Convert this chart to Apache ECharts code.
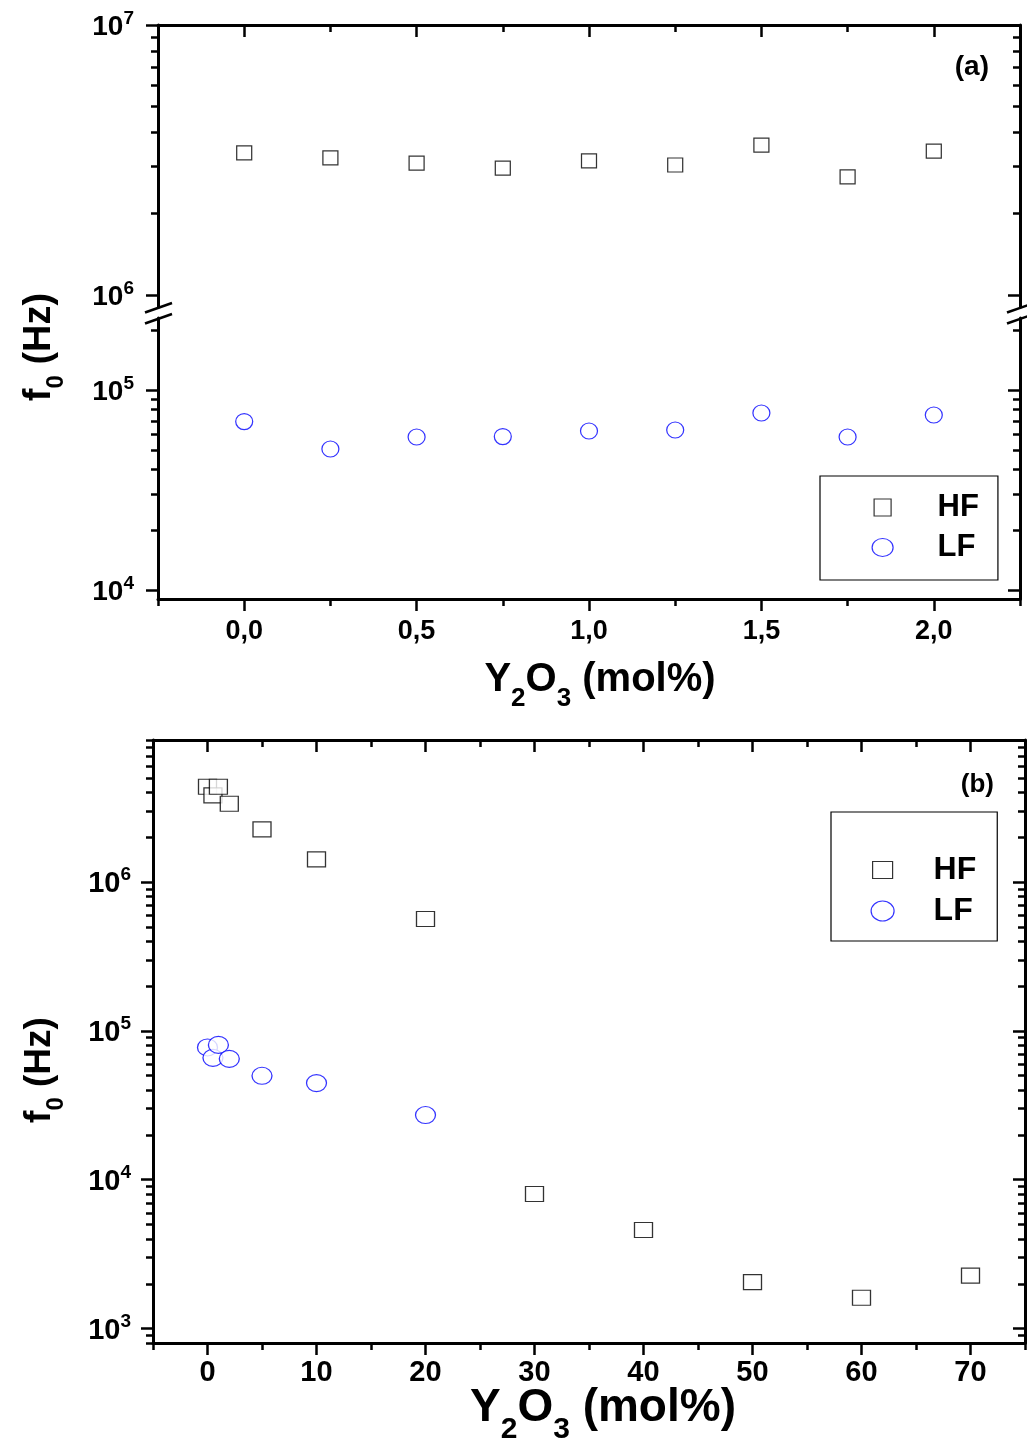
<!DOCTYPE html>
<html>
<head>
<meta charset="utf-8">
<script src="https://cdn.jsdelivr.net/npm/echarts@6/dist/echarts.min.js"></script>
<style>
  html, body { margin: 0; padding: 0; background: #fff; }
  #chart { width: 1027px; height: 1443px; }
</style>
</head>
<body>
<div id="chart"></div>
<script>
// ---- Panel (a): Y2O3 content 0 - 2 mol% ----
const xA  = [0, 0.25, 0.5, 0.75, 1.0, 1.25, 1.5, 1.75, 2.0];
const hfA = [3.36e6, 3.22e6, 3.08e6, 2.95e6, 3.14e6, 3.03e6, 3.59e6, 2.74e6, 3.41e6];
const lfA = [6.95e4, 5.07e4, 5.82e4, 5.85e4, 6.24e4, 6.31e4, 7.67e4, 5.82e4, 7.5e4];

// ---- Panel (b): Y2O3 content 0 - 70 mol% ----
const xB_HF = [0, 0.5, 1, 2, 5, 10, 20, 30, 40, 50, 60, 70];
const hfB   = [4.37e6, 3.82e6, 4.37e6, 3.36e6, 2.26e6, 1.42e6, 5.65e5, 8.02e3, 4.6e3, 2.05e3, 1.61e3, 2.27e3];
const xB_LF = [0, 0.5, 1, 2, 5, 10, 20];
const lfB   = [7.74e4, 6.59e4, 8.05e4, 6.49e4, 4.99e4, 4.46e4, 2.72e4];

// ---- Tick values ----
const xTicksA = [0, 0.5, 1, 1.5, 2];
const xMinorA = [-0.25, 0.25, 0.75, 1.25, 1.75, 2.25];
const xTicksB = [0, 10, 20, 30, 40, 50, 60, 70];
const xMinorB = [-5, 5, 15, 25, 35, 45, 55, 65, 75];
const yTicksA1 = [1e6, 1e7];
const yTicksA2 = [1e4, 1e5];
const yTicksB  = [1e3, 1e4, 1e5, 1e6];

// intermediate (2..9 x 10^n) log ticks inside [lo, hi]
function logMinors(lo, hi) {
  const out = [];
  for (let e = Math.floor(Math.log10(lo)); e <= Math.ceil(Math.log10(hi)); e++) {
    for (let m = 2; m <= 9; m++) {
      const v = m * Math.pow(10, e);
      if (v >= lo * 0.999 && v <= hi * 1.001) out.push(v);
    }
  }
  return out;
}

const FONT = '"Liberation Sans", Arial, Helvetica, sans-serif';
const zip = (xs, ys) => xs.map((x, i) => [x, ys[i]]);

// axis ranges
const A1 = { min: 9.03e5, max: 1e7 };     // upper part of broken axis
const A2 = { min: 9.02e3, max: 2.29e5 };  // lower part of broken axis
const B  = { min: 800, max: 9e6 };

const MAJOR = 12, MINOR = 7;

function axis(o) {
  const a = {
    type: o.type || 'value',
    gridIndex: o.grid,
    position: o.pos,
    min: o.min,
    max: o.max,
    axisLine: { show: !!o.line, onZero: false, lineStyle: { color: '#000', width: 3 } },
    axisTick: {
      show: true, inside: !!o.inside, length: o.len,
      customValues: o.ticks,
      lineStyle: { color: '#000', width: 2.5 }
    },
    axisLabel: { show: false },
    splitLine: { show: false },
    minorTick: { show: false },
    minorSplitLine: { show: false },
    axisPointer: { show: false },
    z: 3
  };
  if (o.type === 'log') a.logBase = 10;
  if (o.label) {
    a.axisLabel = Object.assign({
      show: true,
      customValues: o.ticks,
      color: '#000',
      fontFamily: FONT,
      fontWeight: 'bold'
    }, o.label);
  }
  return a;
}

const logLabel = (base, sup, margin) => ({
  margin: margin,
  formatter: v => '{b|10}{s|' + Math.round(Math.log10(v)) + '}',
  rich: {
    b: { fontFamily: FONT, fontWeight: 'bold', fontSize: base, lineHeight: base + 4, verticalAlign: 'bottom', color: '#000' },
    s: { fontFamily: FONT, fontWeight: 'bold', fontSize: sup, lineHeight: sup, verticalAlign: 'top', color: '#000' }
  }
});

const xAxes = [
  // grid 0 (a, upper): top frame
  axis({ grid: 0, pos: 'top', min: -0.25, max: 2.25, ticks: xTicksA, len: MAJOR, inside: true, line: true }),
  axis({ grid: 0, pos: 'top', min: -0.25, max: 2.25, ticks: xMinorA, len: MINOR, inside: true }),
  // grid 1 (a, lower): bottom axis
  axis({ grid: 1, pos: 'bottom', min: -0.25, max: 2.25, ticks: xTicksA, len: MAJOR, line: true,
         label: { fontSize: 27, margin: 19, formatter: v => v.toFixed(1).replace('.', ',') } }),
  axis({ grid: 1, pos: 'bottom', min: -0.25, max: 2.25, ticks: xMinorA, len: MINOR }),
  // grid 2 (b)
  axis({ grid: 2, pos: 'bottom', min: -5, max: 75, ticks: xTicksB, len: MAJOR, line: true,
         label: { fontSize: 29, margin: 15, formatter: v => String(v) } }),
  axis({ grid: 2, pos: 'bottom', min: -5, max: 75, ticks: xMinorB, len: MINOR }),
  axis({ grid: 2, pos: 'top', min: -5, max: 75, ticks: xTicksB, len: MAJOR, inside: true, line: true }),
  axis({ grid: 2, pos: 'top', min: -5, max: 75, ticks: xMinorB, len: MINOR, inside: true })
];

const yAxes = [
  // grid 0
  axis({ type: 'log', grid: 0, pos: 'left', min: A1.min, max: A1.max, ticks: yTicksA1, len: MAJOR, line: true,
         label: logLabel(28, 19, 24) }),
  axis({ type: 'log', grid: 0, pos: 'left', min: A1.min, max: A1.max, ticks: logMinors(A1.min, A1.max), len: MINOR }),
  axis({ type: 'log', grid: 0, pos: 'right', min: A1.min, max: A1.max, ticks: yTicksA1, len: MAJOR, inside: true, line: true }),
  axis({ type: 'log', grid: 0, pos: 'right', min: A1.min, max: A1.max, ticks: logMinors(A1.min, A1.max), len: MINOR, inside: true }),
  // grid 1
  axis({ type: 'log', grid: 1, pos: 'left', min: A2.min, max: A2.max, ticks: yTicksA2, len: MAJOR, line: true,
         label: logLabel(28, 19, 24) }),
  axis({ type: 'log', grid: 1, pos: 'left', min: A2.min, max: A2.max, ticks: logMinors(A2.min, A2.max), len: MINOR }),
  axis({ type: 'log', grid: 1, pos: 'right', min: A2.min, max: A2.max, ticks: yTicksA2, len: MAJOR, inside: true, line: true }),
  axis({ type: 'log', grid: 1, pos: 'right', min: A2.min, max: A2.max, ticks: logMinors(A2.min, A2.max), len: MINOR, inside: true }),
  // grid 2
  axis({ type: 'log', grid: 2, pos: 'left', min: B.min, max: B.max, ticks: yTicksB, len: MAJOR, line: true,
         label: logLabel(29, 19, 22) }),
  axis({ type: 'log', grid: 2, pos: 'left', min: B.min, max: B.max, ticks: logMinors(B.min, B.max), len: MINOR }),
  axis({ type: 'log', grid: 2, pos: 'right', min: B.min, max: B.max, ticks: yTicksB, len: MAJOR, inside: true, line: true }),
  axis({ type: 'log', grid: 2, pos: 'right', min: B.min, max: B.max, ticks: logMinors(B.min, B.max), len: MINOR, inside: true })
];

const hfStyle = { color: '#fff', borderColor: '#000', borderWidth: 1.2 };
const lfStyle = { color: '#fff', borderColor: '#0000ff', borderWidth: 1.2 };

function scatter(name, xi, yi, data, symbol, size, style) {
  return {
    type: 'scatter', name: name, xAxisIndex: xi, yAxisIndex: yi, data: data,
    symbol: symbol, symbolSize: size, itemStyle: style,
    emphasis: { disabled: true }, z: 5, clip: false
  };
}

const series = [
  scatter('HF', 0, 0, zip(xA, hfA), 'rect', [15, 14], hfStyle),
  scatter('LF', 2, 4, zip(xA, lfA), 'circle', [17, 16], lfStyle),
  scatter('HF', 4, 8, zip(xB_HF, hfB), 'rect', [18, 15], hfStyle),
  scatter('LF', 4, 8, zip(xB_LF, lfB), 'circle', [20, 17], lfStyle)
];

function legend(o) {
  return {
    show: true, orient: 'vertical', left: o.left, top: o.top,
    padding: o.padding, itemGap: o.gap, itemWidth: o.iw, itemHeight: o.ih,
    borderColor: '#000', borderWidth: 1.2, backgroundColor: '#fff',
    selectedMode: false,
    textStyle: {
      fontFamily: FONT, fontWeight: 'bold', fontSize: o.fs, lineHeight: o.fs,
      color: '#000', padding: [0, 0, 0, o.textPad]
    },
    data: [
      { name: 'HF', icon: o.sq, itemStyle: hfStyle },
      { name: 'LF', icon: o.el, itemStyle: lfStyle }
    ],
    z: 10
  };
}

const titleRich = (m, s, p) => ({
  m: { fontFamily: FONT, fontWeight: 'bold', fontSize: m, lineHeight: m, verticalAlign: 'top', fill: '#000', color: '#000' },
  s: { fontFamily: FONT, fontWeight: 'bold', fontSize: s, lineHeight: s, verticalAlign: 'top', padding: [p, 0, 0, 0], fill: '#000', color: '#000' }
});

function breakMarks(cx) {
  return [
    { type: 'line', shape: { x1: cx - 13, y1: 312.5, x2: cx + 14, y2: 303 }, style: { stroke: '#000', lineWidth: 2.5 }, z: 20 },
    { type: 'line', shape: { x1: cx - 13, y1: 323.5, x2: cx + 14, y2: 314 }, style: { stroke: '#000', lineWidth: 2.5 }, z: 20 }
  ];
}

const option = {
  animation: false,
  backgroundColor: '#fff',
  grid: [
    { left: 158, right: 7, top: 25, height: 282 },
    { left: 158, right: 7, top: 318, height: 281 },
    { left: 153, right: 2, top: 740, height: 603 }
  ],
  xAxis: xAxes,
  yAxis: yAxes,
  series: series,
  legend: [
    legend({ left: 820, top: 476, padding: [16, 19, 17, 51.5], gap: 9, iw: 21, ih: 18, fs: 31, textPad: 39.5,
             sq: 'path://M0,0M2,0.5h17v17h-17zM21,18',
             el: 'path://M0,9a10.5,9 0 1,0 21,0a10.5,9 0 1,0 -21,0z' }),
    legend({ left: 831, top: 812, padding: [42, 21, 14, 39.5], gap: 9, iw: 23, ih: 20, fs: 32, textPad: 34.5,
             sq: 'path://M0,0M1.5,1.5h20v17h-20zM23,20',
             el: 'path://M0,10a11.5,10 0 1,0 23,0a11.5,10 0 1,0 -23,0z' })
  ],
  graphic: [
    { type: 'text', x: 989, y: 67, style: { text: '(a)', font: 'bold 28px ' + FONT, align: 'right', verticalAlign: 'middle', fill: '#000' } },
    { type: 'text', x: 994, y: 785, style: { text: '(b)', font: 'bold 26px ' + FONT, align: 'right', verticalAlign: 'middle', fill: '#000' } },
    // x-axis titles
    { type: 'text', x: 600, y: 660, style: { text: '{m|Y}{s|2}{m|O}{s|3}{m| (mol%)}', align: 'center', verticalAlign: 'top', rich: titleRich(40, 26, 26) } },
    { type: 'text', x: 603, y: 1385, style: { text: '{m|Y}{s|2}{m|O}{s|3}{m| (mol%)}', align: 'center', verticalAlign: 'top', rich: titleRich(46, 30, 30) } },
    // y-axis titles
    { type: 'text', x: 40, y: 347, rotation: Math.PI / 2, style: { text: '{m|f}{s|0}{m| (Hz)}', align: 'center', verticalAlign: 'middle', rich: titleRich(38, 24, 23) } },
    { type: 'text', x: 40, y: 1070, rotation: Math.PI / 2, style: { text: '{m|f}{s|0}{m| (Hz)}', align: 'center', verticalAlign: 'middle', rich: titleRich(37, 24, 23) } }
  ].concat(breakMarks(158), breakMarks(1020))
};

const chart = echarts.init(document.getElementById('chart'), null, { renderer: 'canvas' });
chart.setOption(option);
</script>
</body>
</html>
